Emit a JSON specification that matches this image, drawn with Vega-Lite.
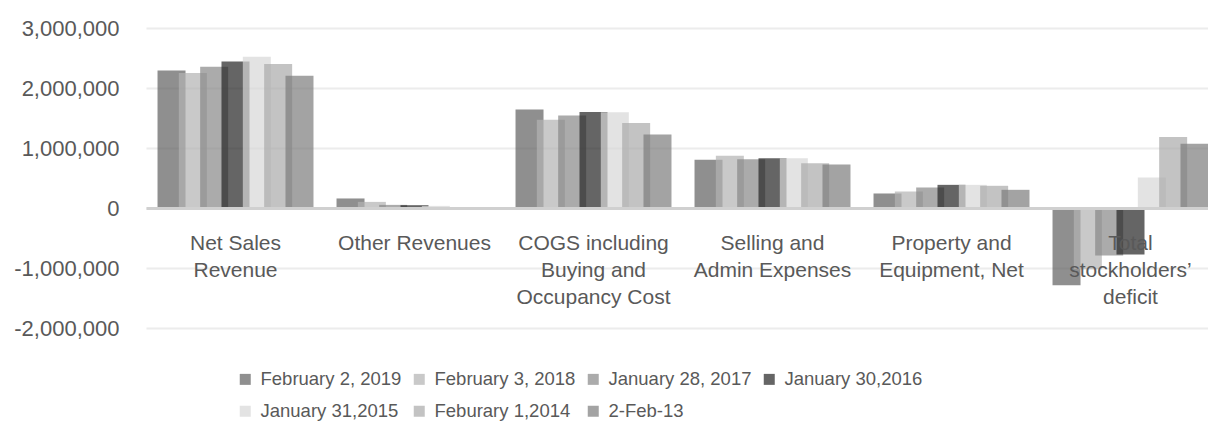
{
  "$schema": "https://vega.github.io/schema/vega-lite/v6.json",
  "width": 1074,
  "height": 300,
  "autosize": "none",
  "padding": {"left": 146, "top": 28, "right": 0, "bottom": 111},
  "background": "white",
  "config": {
    "view": {"stroke": null},
    "font": "Liberation Sans",
    "axis": {"labelFont": "Liberation Sans", "labelColor": "#595959", "labelFontSize": 21}
  },
  "data": {
    "values": [
      {"category": "Net Sales Revenue", "period": "February 2, 2019", "value": 2293000},
      {"category": "Net Sales Revenue", "period": "February 3, 2018", "value": 2249000},
      {"category": "Net Sales Revenue", "period": "January 28, 2017", "value": 2355000},
      {"category": "Net Sales Revenue", "period": "January 30,2016", "value": 2443000},
      {"category": "Net Sales Revenue", "period": "January 31,2015", "value": 2520000},
      {"category": "Net Sales Revenue", "period": "Feburary 1,2014", "value": 2398000},
      {"category": "Net Sales Revenue", "period": "2-Feb-13", "value": 2205000},
      {"category": "Other Revenues", "period": "February 2, 2019", "value": 159000},
      {"category": "Other Revenues", "period": "February 3, 2018", "value": 102000},
      {"category": "Other Revenues", "period": "January 28, 2017", "value": 52000},
      {"category": "Other Revenues", "period": "January 30,2016", "value": 47000},
      {"category": "Other Revenues", "period": "January 31,2015", "value": 35000},
      {"category": "Other Revenues", "period": "Feburary 1,2014", "value": 15000},
      {"category": "Other Revenues", "period": "2-Feb-13", "value": 10000},
      {"category": "COGS including Buying and Occupancy Cost", "period": "February 2, 2019", "value": 1642000},
      {"category": "COGS including Buying and Occupancy Cost", "period": "February 3, 2018", "value": 1469000},
      {"category": "COGS including Buying and Occupancy Cost", "period": "January 28, 2017", "value": 1542000},
      {"category": "COGS including Buying and Occupancy Cost", "period": "January 30,2016", "value": 1602000},
      {"category": "COGS including Buying and Occupancy Cost", "period": "January 31,2015", "value": 1597000},
      {"category": "COGS including Buying and Occupancy Cost", "period": "Feburary 1,2014", "value": 1415000},
      {"category": "COGS including Buying and Occupancy Cost", "period": "2-Feb-13", "value": 1227000},
      {"category": "Selling and Admin Expenses", "period": "February 2, 2019", "value": 806000},
      {"category": "Selling and Admin Expenses", "period": "February 3, 2018", "value": 870000},
      {"category": "Selling and Admin Expenses", "period": "January 28, 2017", "value": 812000},
      {"category": "Selling and Admin Expenses", "period": "January 30,2016", "value": 830000},
      {"category": "Selling and Admin Expenses", "period": "January 31,2015", "value": 830000},
      {"category": "Selling and Admin Expenses", "period": "Feburary 1,2014", "value": 745000},
      {"category": "Selling and Admin Expenses", "period": "2-Feb-13", "value": 723000},
      {"category": "Property and Equipment, Net", "period": "February 2, 2019", "value": 242000},
      {"category": "Property and Equipment, Net", "period": "February 3, 2018", "value": 275000},
      {"category": "Property and Equipment, Net", "period": "January 28, 2017", "value": 342000},
      {"category": "Property and Equipment, Net", "period": "January 30,2016", "value": 386000},
      {"category": "Property and Equipment, Net", "period": "January 31,2015", "value": 386000},
      {"category": "Property and Equipment, Net", "period": "Feburary 1,2014", "value": 370000},
      {"category": "Property and Equipment, Net", "period": "2-Feb-13", "value": 303000},
      {"category": "Total stockholders’ deficit", "period": "February 2, 2019", "value": -1289000},
      {"category": "Total stockholders’ deficit", "period": "February 3, 2018", "value": -1020000},
      {"category": "Total stockholders’ deficit", "period": "January 28, 2017", "value": -790000},
      {"category": "Total stockholders’ deficit", "period": "January 30,2016", "value": -775000},
      {"category": "Total stockholders’ deficit", "period": "January 31,2015", "value": 508000},
      {"category": "Total stockholders’ deficit", "period": "Feburary 1,2014", "value": 1182000},
      {"category": "Total stockholders’ deficit", "period": "2-Feb-13", "value": 1071000}
    ]
  },
  "mark": {"type": "bar", "width": 28, "opacity": 0.7},
  "encoding": {
    "x": {
      "field": "category",
      "type": "nominal",
      "sort": null,
      "scale": {"paddingInner": 0.166, "paddingOuter": 0.083},
      "axis": {
        "title": null,
        "orient": "bottom",
        "offset": -120,
        "zindex": 1,
        "ticks": false,
        "tickSize": 0,
        "domainColor": "#d0d0d0",
        "domainWidth": 3,
        "labelAngle": 0,
        "labelPadding": 24,
        "labelLineHeight": 27,
        "labelBaseline": "top",
        "labelOverlap": false,
        "labelLimit": 0,
        "labelExpr": "datum.value == 'Net Sales Revenue' ? ['Net Sales', 'Revenue'] : datum.value == 'COGS including Buying and Occupancy Cost' ? ['COGS including', 'Buying and', 'Occupancy Cost'] : datum.value == 'Selling and Admin Expenses' ? ['Selling and', 'Admin Expenses'] : datum.value == 'Property and Equipment, Net' ? ['Property and', 'Equipment, Net'] : datum.value == 'Total stockholders’ deficit' ? ['Total', 'stockholders’', 'deficit'] : datum.label"
      }
    },
    "xOffset": {"field": "period", "type": "nominal", "sort": null, "scale": {"paddingInner": 0, "paddingOuter": 0}},
    "y": {
      "field": "value",
      "type": "quantitative",
      "scale": {"domain": [-2000000, 3000000], "nice": false, "zero": true},
      "axis": {
        "title": null,
        "values": [-2000000, -1000000, 0, 1000000, 2000000, 3000000],
        "domain": false,
        "ticks": false,
        "tickSize": 0,
        "labelFontSize": 22,
        "labelPadding": 27,
        "gridColor": "#ececec",
        "gridWidth": 2,
        "labelExpr": "replace(format(datum.value, ','), '\u2212', '-')"
      }
    },
    "color": {
      "field": "period",
      "type": "nominal",
      "sort": null,
      "scale": {
        "domain": ["February 2, 2019", "February 3, 2018", "January 28, 2017", "January 30,2016", "January 31,2015", "Feburary 1,2014", "2-Feb-13"],
        "range": ["#5f5f5f", "#b2b2b2", "#878787", "#242424", "#d7d7d7", "#a9a9a9", "#7c7c7c"]
      },
      "legend": {
        "title": null,
        "orient": "none",
        "legendX": 90,
        "legendY": 342,
        "direction": "horizontal",
        "columns": 4,
        "symbolType": "square",
        "symbolSize": 121,
        "symbolStrokeWidth": 0,
        "labelFont": "Liberation Sans",
        "labelFontSize": 18.5,
        "labelColor": "#595959",
        "labelOffset": 6,
        "labelLimit": 0,
        "columnPadding": 8,
        "rowPadding": 13
      }
    }
  }
}
